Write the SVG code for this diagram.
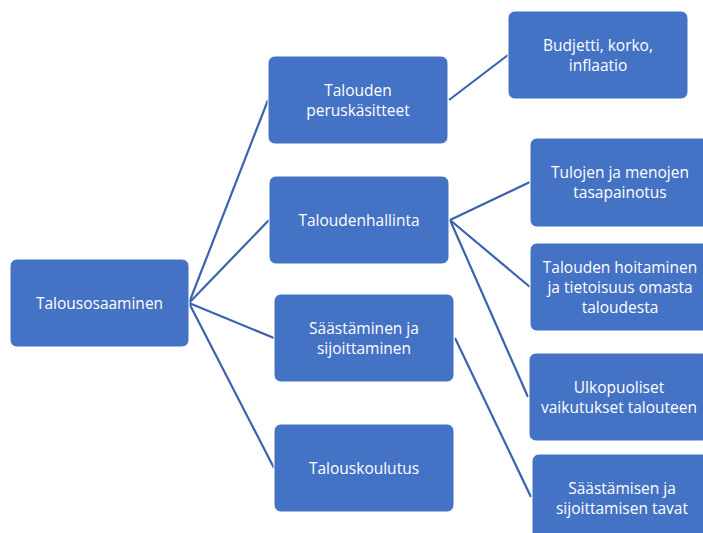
<svg xmlns="http://www.w3.org/2000/svg" width="703" height="533" viewBox="0 0 703 533">
<style>
.box{fill:#4472C4;stroke:#ffffff;stroke-width:1}
.t{fill:#ffffff;font-family:"Open Sans","Liberation Sans",Arial,sans-serif;font-size:15.5px;text-anchor:middle}
.c{stroke:#3A62AE;stroke-width:2.2;fill:none}
</style>
<rect width="703" height="533" fill="#ffffff"/>
<g id="connectors">
<line class="c" x1="189" y1="303" x2="268" y2="100"/>
<line class="c" x1="189" y1="303" x2="269" y2="220"/>
<line class="c" x1="189" y1="303" x2="274" y2="338"/>
<line class="c" x1="189" y1="303" x2="274" y2="468"/>
<line class="c" x1="449" y1="100" x2="508" y2="55"/>
<line class="c" x1="450" y1="220" x2="530" y2="182"/>
<line class="c" x1="450" y1="220" x2="530" y2="287"/>
<line class="c" x1="450" y1="220" x2="528" y2="397"/>
<line class="c" x1="455" y1="338" x2="531" y2="497"/>
</g>
<g id="root">
<rect class="box" x="10" y="259" width="179" height="88" rx="7"/>
<text class="t" x="99.5" y="308.5">Talousosaaminen</text>
</g>
<g id="peruskasitteet">
<rect class="box" x="268" y="56" width="180" height="88" rx="7"/>
<text class="t" x="358" y="95.5">Talouden</text>
<text class="t" x="358" y="115.5">peruskäsitteet</text>
</g>
<g id="budjetti">
<rect class="box" x="508" y="11" width="180" height="88" rx="7"/>
<text class="t" x="598" y="50.5">Budjetti, korko,</text>
<text class="t" x="598" y="70.5">inflaatio</text>
</g>
<g id="taloudenhallinta">
<rect class="box" x="269" y="176" width="180" height="88" rx="7"/>
<text class="t" x="359" y="225.5">Taloudenhallinta</text>
</g>
<g id="tulojen">
<rect class="box" x="530" y="138" width="180" height="89" rx="7"/>
<text class="t" x="620" y="177.5">Tulojen ja menojen</text>
<text class="t" x="620" y="197.5">tasapainotus</text>
</g>
<g id="hoitaminen">
<rect class="box" x="530" y="243" width="180" height="88" rx="7"/>
<text class="t" x="620" y="272.5">Talouden hoitaminen</text>
<text class="t" x="620" y="292.5">ja tietoisuus omasta</text>
<text class="t" x="620" y="312.5">taloudesta</text>
</g>
<g id="saastaminen">
<rect class="box" x="274" y="294" width="180" height="88" rx="7"/>
<text class="t" x="364" y="333.5">Säästäminen ja</text>
<text class="t" x="364" y="353.5">sijoittaminen</text>
</g>
<g id="ulkopuoliset">
<rect class="box" x="529" y="353" width="180" height="88" rx="7"/>
<text class="t" x="619" y="392.5">Ulkopuoliset</text>
<text class="t" x="619" y="412.5">vaikutukset talouteen</text>
</g>
<g id="talouskoulutus">
<rect class="box" x="274" y="424" width="180" height="88" rx="7"/>
<text class="t" x="364" y="473.5">Talouskoulutus</text>
</g>
<g id="saastamisen-tavat">
<rect class="box" x="532" y="454" width="180" height="88" rx="7"/>
<text class="t" x="622" y="493.5">Säästämisen ja</text>
<text class="t" x="622" y="513.5">sijoittamisen tavat</text>
</g>
</svg>
